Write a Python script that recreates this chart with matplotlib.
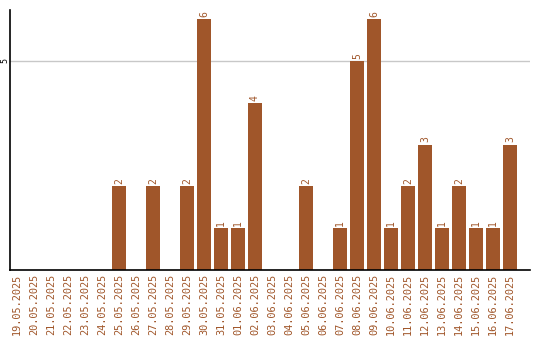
import matplotlib
matplotlib.use("Agg")
import matplotlib.pyplot as plt

# Daily counts, 19.05.2025 - 17.06.2025
dates = ["19.05.2025", "20.05.2025", "21.05.2025", "22.05.2025", "23.05.2025",
         "24.05.2025", "25.05.2025", "26.05.2025", "27.05.2025", "28.05.2025",
         "29.05.2025", "30.05.2025", "31.05.2025", "01.06.2025", "02.06.2025",
         "03.06.2025", "04.06.2025", "05.06.2025", "06.06.2025", "07.06.2025",
         "08.06.2025", "09.06.2025", "10.06.2025", "11.06.2025", "12.06.2025",
         "13.06.2025", "14.06.2025", "15.06.2025", "16.06.2025", "17.06.2025"]
counts = [0, 0, 0, 0, 0, 0, 2, 0, 2, 0, 2, 6, 1, 1, 4,
          0, 0, 2, 0, 1, 5, 6, 1, 2, 3, 1, 2, 1, 1, 3]

color = "#A0562A"
font = "DejaVu Sans Mono"

fig = plt.figure(figsize=(5.4, 3.4), dpi=100)
ax = fig.add_axes([0.0194, 0.206, 0.9626, 0.765])

x = list(range(len(dates)))
ax.bar(x, counts, width=0.82, color=color, zorder=2)

# value labels on top of non-empty bars
for xi, v in zip(x, counts):
    if v > 0:
        ax.text(xi, v + 0.05, str(v), rotation=90, ha="center", va="bottom",
                color=color, fontsize=7, family=font)

ax.set_xlim(-0.38, 30.2)
ax.set_ylim(0, 6.22)
ax.set_xticks(x)
ax.set_xticklabels(dates, rotation=90, color=color, fontsize=7.4, family=font)
ax.set_yticks([5])
ax.set_yticklabels(["5"], rotation=90, va="center", fontsize=6, family=font)
ax.tick_params(axis="x", length=0, pad=3)
ax.tick_params(axis="y", length=0, pad=1)
ax.yaxis.grid(True, color="#c8c8c8", linewidth=1, zorder=0)

for side in ["top", "right"]:
    ax.spines[side].set_visible(False)
ax.spines["left"].set_linewidth(1.2)
ax.spines["bottom"].set_linewidth(1.2)

fig.savefig("out.png", dpi=100)
